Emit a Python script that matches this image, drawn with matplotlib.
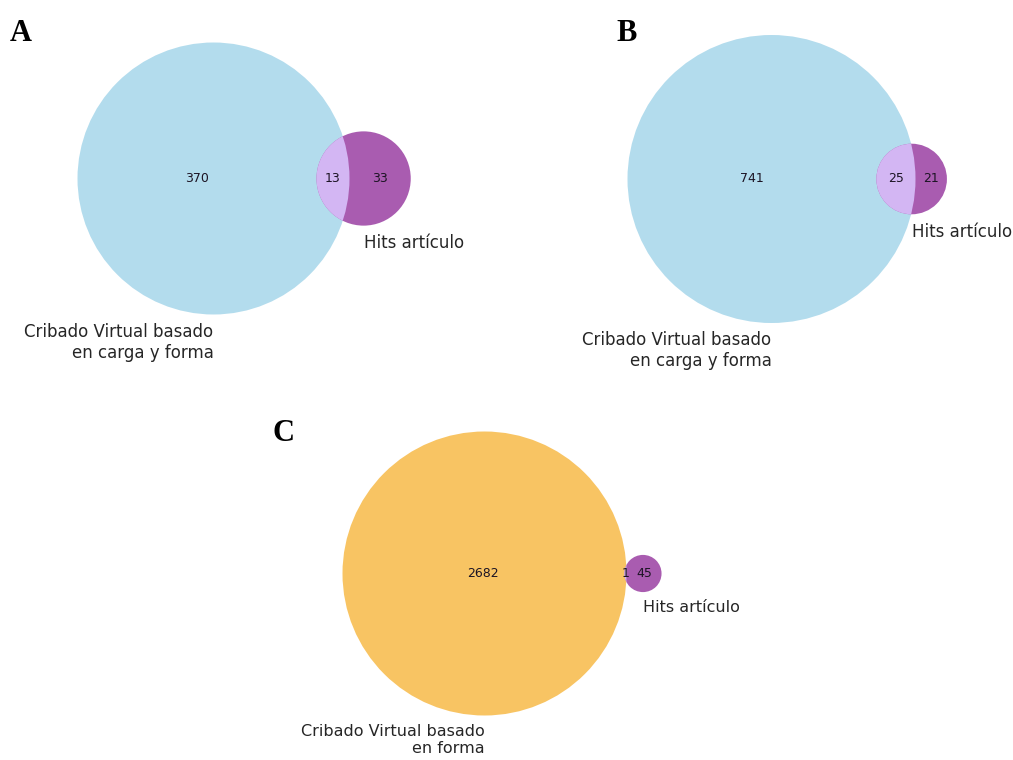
import numpy as np
import matplotlib
matplotlib.use("Agg")
import matplotlib.pyplot as plt
from matplotlib.patches import Circle

# Subset sizes for each two-set Venn diagram: (only set 1, only set 2, both)
panel_letters = ["A", "B", "C"]
only_screen = [370, 741, 2682]
only_hits = [33, 21, 45]
shared = [13, 25, 1]
screen_labels = [
    "Cribado Virtual basado\nen carga y forma",
    "Cribado Virtual basado\nen carga y forma",
    "Cribado Virtual basado\nen forma",
]
hits_label = "Hits artículo"

BLUE = "#B3DCED"
ORANGE = "#F8C463"
PURPLE = "#A95CB0"
LAVENDER = "#D3B6F3"
screen_colors = [BLUE, BLUE, ORANGE]

W, H = 1013, 760
fig = plt.figure(figsize=(W / 100, H / 100), dpi=100)
fig.patch.set_facecolor("white")


def overlap_area(d, r1, r2):
    if d >= r1 + r2:
        return 0.0
    if d <= abs(r1 - r2):
        return np.pi * min(r1, r2) ** 2
    a1 = r1 ** 2 * np.arccos((d ** 2 + r1 ** 2 - r2 ** 2) / (2 * d * r1))
    a2 = r2 ** 2 * np.arccos((d ** 2 + r2 ** 2 - r1 ** 2) / (2 * d * r2))
    k = 0.5 * np.sqrt((-d + r1 + r2) * (d + r1 - r2) * (d - r1 + r2) * (d + r1 + r2))
    return a1 + a2 - k


def center_distance(r1, r2, target):
    lo, hi = abs(r1 - r2), r1 + r2
    for _ in range(200):
        mid = 0.5 * (lo + hi)
        if overlap_area(mid, r1, r2) > target:
            lo = mid
        else:
            hi = mid
    return 0.5 * (lo + hi)


def venn_panel(i, box, center_px, r1_px, set_fs, sub_fs):
    a_only, b_only, ab = only_screen[i], only_hits[i], shared[i]
    r1 = np.sqrt((a_only + ab) / np.pi)
    r2 = np.sqrt((b_only + ab) / np.pi)
    d = center_distance(r1, r2, ab)

    x0, y0, x1, y1 = box
    cx, cy = center_px
    s = r1_px / r1
    ax = fig.add_axes([x0 / W, 1 - y1 / H, (x1 - x0) / W, (y1 - y0) / H])
    ax.set_xlim((x0 - cx) / s, (x1 - cx) / s)
    ax.set_ylim((cy - y1) / s, (cy - y0) / s)
    ax.set_axis_off()

    big = Circle((0, 0), r1, facecolor=screen_colors[i], edgecolor="none")
    small = Circle((d, 0), r2, facecolor=PURPLE, edgecolor="none")
    ax.add_patch(big)
    ax.add_patch(small)
    inter = Circle((d, 0), r2, facecolor=LAVENDER, edgecolor="none")
    ax.add_patch(inter)
    inter.set_clip_path(big)

    # subset counts sit at the middle of each region along the centre line
    xa = 0.5 * (-r1 + d - r2)
    xab = 0.5 * (d - r2 + r1)
    xb = 0.5 * (r1 + d + r2)
    for x, v in [(xa, a_only), (xab, ab), (xb, b_only)]:
        ax.text(x, 0, str(v), ha="center", va="center", fontsize=sub_fs,
                color="#1c1424")

    ax.annotate(screen_labels[i], xy=(0, -r1), xytext=(0, -6),
                textcoords="offset points", ha="right", va="top",
                fontsize=set_fs, color="#262626", multialignment="right")
    ax.annotate(hits_label, xy=(d, -r2), xytext=(0, -6),
                textcoords="offset points", ha="left", va="top",
                fontsize=set_fs, color="#262626")
    return ax


venn_panel(0, (0, 20, 500, 380), (213.5, 178.5), 136, 12, 9)
venn_panel(1, (500, 20, 1013, 380), (771.5, 179), 144, 12, 9)
venn_panel(2, (250, 400, 760, 760), (484.5, 573.5), 142, 11.5, 9)

letter_pos = [(10, 41), (616, 41), (272, 441)]
for letter, (px, py) in zip(panel_letters, letter_pos):
    fig.text(px / W, 1 - py / H, letter, fontsize=22, fontweight="bold",
             family="Liberation Serif", ha="left", va="baseline", color="black")

fig.savefig("out.png", dpi=100, facecolor="white")
